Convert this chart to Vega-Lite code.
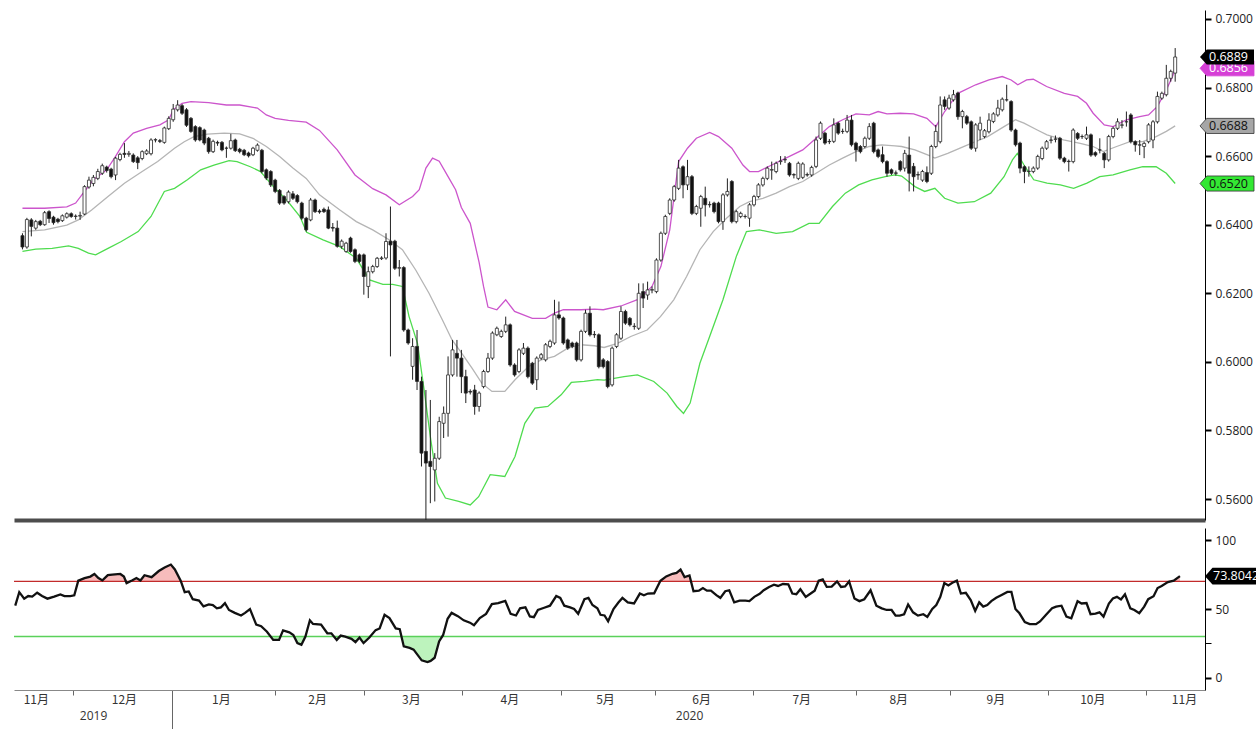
{
"$schema": "https://vega.github.io/schema/vega-lite/v6.json",
"background": "white",
"padding": {"left": 10, "top": 10, "right": 0, "bottom": 0},
"spacing": 8,
"config": {"view": {"stroke": null}, "font": "Open Sans", "axis": {"grid": false}},
"datasets": {
"px": [
{"i":0,"o":0.6368,"h":0.6375,"l":0.6328,"c":0.6335},
{"i":1,"o":0.6335,"h":0.642,"l":0.633,"c":0.6415},
{"i":2,"o":0.6414,"h":0.6419,"l":0.6366,"c":0.6395},
{"i":3,"o":0.639,"h":0.6414,"l":0.6385,"c":0.6409},
{"i":4,"o":0.641,"h":0.6414,"l":0.6396,"c":0.64},
{"i":5,"o":0.64,"h":0.644,"l":0.6397,"c":0.6435},
{"i":6,"o":0.6438,"h":0.6442,"l":0.6405,"c":0.6418},
{"i":7,"o":0.6422,"h":0.6426,"l":0.64,"c":0.6406},
{"i":8,"o":0.6416,"h":0.642,"l":0.6404,"c":0.6409},
{"i":9,"o":0.6412,"h":0.643,"l":0.6408,"c":0.6426},
{"i":10,"o":0.6422,"h":0.6436,"l":0.6418,"c":0.6432},
{"i":11,"o":0.6432,"h":0.6436,"l":0.642,"c":0.6424},
{"i":12,"o":0.6424,"h":0.643,"l":0.6415,"c":0.6425},
{"i":13,"o":0.6425,"h":0.6438,"l":0.6414,"c":0.6427},
{"i":14,"o":0.6431,"h":0.6515,"l":0.6428,"c":0.6511},
{"i":15,"o":0.651,"h":0.654,"l":0.6505,"c":0.653},
{"i":16,"o":0.652,"h":0.6545,"l":0.6512,"c":0.6538},
{"i":17,"o":0.6535,"h":0.6563,"l":0.653,"c":0.6555},
{"i":18,"o":0.655,"h":0.6578,"l":0.6545,"c":0.6572},
{"i":19,"o":0.6568,"h":0.6572,"l":0.6552,"c":0.6558},
{"i":20,"o":0.6562,"h":0.6566,"l":0.6535,"c":0.654},
{"i":21,"o":0.6545,"h":0.6598,"l":0.653,"c":0.6594},
{"i":22,"o":0.659,"h":0.661,"l":0.6585,"c":0.6605},
{"i":23,"o":0.6608,"h":0.6638,"l":0.6595,"c":0.6605},
{"i":24,"o":0.6605,"h":0.6615,"l":0.6598,"c":0.6608},
{"i":25,"o":0.6603,"h":0.6608,"l":0.658,"c":0.6584},
{"i":26,"o":0.6595,"h":0.66,"l":0.6562,"c":0.6581},
{"i":27,"o":0.6593,"h":0.6617,"l":0.6588,"c":0.6613},
{"i":28,"o":0.6607,"h":0.662,"l":0.6603,"c":0.6615},
{"i":29,"o":0.6607,"h":0.6652,"l":0.6602,"c":0.6647},
{"i":30,"o":0.6647,"h":0.6652,"l":0.664,"c":0.6648},
{"i":31,"o":0.6645,"h":0.665,"l":0.6638,"c":0.6643},
{"i":32,"o":0.664,"h":0.6686,"l":0.6636,"c":0.6682},
{"i":33,"o":0.668,"h":0.6716,"l":0.6676,"c":0.671},
{"i":34,"o":0.6706,"h":0.6752,"l":0.67,"c":0.6737},
{"i":35,"o":0.6735,"h":0.6763,"l":0.673,"c":0.6749},
{"i":36,"o":0.6747,"h":0.6752,"l":0.672,"c":0.6725},
{"i":37,"o":0.6735,"h":0.674,"l":0.6685,"c":0.669},
{"i":38,"o":0.671,"h":0.6714,"l":0.6668,"c":0.6672},
{"i":39,"o":0.6686,"h":0.669,"l":0.6642,"c":0.6647},
{"i":40,"o":0.6683,"h":0.6687,"l":0.6643,"c":0.6647},
{"i":41,"o":0.6676,"h":0.668,"l":0.6632,"c":0.6638},
{"i":42,"o":0.6652,"h":0.6656,"l":0.6607,"c":0.6613},
{"i":43,"o":0.6613,"h":0.6648,"l":0.6609,"c":0.6643},
{"i":44,"o":0.664,"h":0.6645,"l":0.663,"c":0.6638},
{"i":45,"o":0.664,"h":0.6644,"l":0.6614,"c":0.6618},
{"i":46,"o":0.6623,"h":0.6628,"l":0.6595,"c":0.6623},
{"i":47,"o":0.6623,"h":0.6665,"l":0.6619,"c":0.6645},
{"i":48,"o":0.6647,"h":0.6651,"l":0.6612,"c":0.6616},
{"i":49,"o":0.662,"h":0.6624,"l":0.6608,"c":0.6613},
{"i":50,"o":0.6617,"h":0.6621,"l":0.66,"c":0.6604},
{"i":51,"o":0.6609,"h":0.6613,"l":0.6596,"c":0.6601},
{"i":52,"o":0.6604,"h":0.6627,"l":0.66,"c":0.6623},
{"i":53,"o":0.6617,"h":0.6637,"l":0.6613,"c":0.6632},
{"i":54,"o":0.6617,"h":0.6621,"l":0.655,"c":0.6555},
{"i":55,"o":0.656,"h":0.6564,"l":0.653,"c":0.6536},
{"i":56,"o":0.6555,"h":0.6559,"l":0.651,"c":0.6516},
{"i":57,"o":0.653,"h":0.6534,"l":0.6492,"c":0.6497},
{"i":58,"o":0.65,"h":0.6504,"l":0.6458,"c":0.6463},
{"i":59,"o":0.6482,"h":0.6486,"l":0.6458,"c":0.6463},
{"i":60,"o":0.6467,"h":0.65,"l":0.6462,"c":0.6495},
{"i":61,"o":0.649,"h":0.6498,"l":0.6472,"c":0.6477},
{"i":62,"o":0.6485,"h":0.6489,"l":0.6462,"c":0.6467},
{"i":63,"o":0.6463,"h":0.6467,"l":0.6414,"c":0.6419},
{"i":64,"o":0.6419,"h":0.6423,"l":0.638,"c":0.6385},
{"i":65,"o":0.6414,"h":0.6478,"l":0.641,"c":0.6472},
{"i":66,"o":0.6472,"h":0.6476,"l":0.6434,"c":0.6438},
{"i":67,"o":0.644,"h":0.6445,"l":0.6432,"c":0.6437},
{"i":68,"o":0.6445,"h":0.645,"l":0.6434,"c":0.6438},
{"i":69,"o":0.6443,"h":0.6453,"l":0.6387,"c":0.639},
{"i":70,"o":0.6392,"h":0.6405,"l":0.638,"c":0.639},
{"i":71,"o":0.639,"h":0.6412,"l":0.6333,"c":0.6337},
{"i":72,"o":0.6337,"h":0.6357,"l":0.633,"c":0.6352},
{"i":73,"o":0.6322,"h":0.635,"l":0.6318,"c":0.6346},
{"i":74,"o":0.6361,"h":0.6365,"l":0.6318,"c":0.6322},
{"i":75,"o":0.6327,"h":0.6331,"l":0.6288,"c":0.6293},
{"i":76,"o":0.6312,"h":0.6316,"l":0.6288,"c":0.6293},
{"i":77,"o":0.6312,"h":0.6316,"l":0.6196,"c":0.6249},
{"i":78,"o":0.622,"h":0.6278,"l":0.6186,"c":0.6263},
{"i":79,"o":0.6263,"h":0.6283,"l":0.6258,"c":0.6278},
{"i":80,"o":0.6278,"h":0.6306,"l":0.6274,"c":0.6302},
{"i":81,"o":0.6301,"h":0.6308,"l":0.6297,"c":0.6303},
{"i":82,"o":0.6303,"h":0.6375,"l":0.6298,"c":0.6351},
{"i":83,"o":0.6352,"h":0.6453,"l":0.6016,"c":0.6341},
{"i":84,"o":0.6352,"h":0.6356,"l":0.6268,"c":0.6273},
{"i":85,"o":0.6273,"h":0.6297,"l":0.6249,"c":0.6275},
{"i":86,"o":0.6275,"h":0.6279,"l":0.6088,"c":0.6093},
{"i":87,"o":0.6093,"h":0.6097,"l":0.605,"c":0.6055},
{"i":88,"o":0.5987,"h":0.6069,"l":0.5948,"c":0.6045},
{"i":89,"o":0.6045,"h":0.6093,"l":0.5918,"c":0.5943},
{"i":90,"o":0.5943,"h":0.5957,"l":0.5695,"c":0.5734},
{"i":91,"o":0.5739,"h":0.5918,"l":0.551,"c":0.5705},
{"i":92,"o":0.571,"h":0.5889,"l":0.5588,"c":0.5695},
{"i":93,"o":0.5685,"h":0.5734,"l":0.5593,"c":0.5719},
{"i":94,"o":0.5719,"h":0.584,"l":0.5714,"c":0.5826},
{"i":95,"o":0.5821,"h":0.587,"l":0.5778,"c":0.585},
{"i":96,"o":0.585,"h":0.6016,"l":0.5782,"c":0.5962},
{"i":97,"o":0.5962,"h":0.6064,"l":0.5957,"c":0.6035},
{"i":98,"o":0.6025,"h":0.6064,"l":0.5957,"c":0.6011},
{"i":99,"o":0.6011,"h":0.6035,"l":0.5909,"c":0.5957},
{"i":100,"o":0.5957,"h":0.5977,"l":0.588,"c":0.5909},
{"i":101,"o":0.5914,"h":0.592,"l":0.5905,"c":0.5912},
{"i":102,"o":0.5918,"h":0.5933,"l":0.5846,"c":0.587},
{"i":103,"o":0.587,"h":0.5914,"l":0.5855,"c":0.5909},
{"i":104,"o":0.5928,"h":0.5977,"l":0.5923,"c":0.5972},
{"i":105,"o":0.5972,"h":0.6026,"l":0.5968,"c":0.6011},
{"i":106,"o":0.6011,"h":0.6089,"l":0.6006,"c":0.6084},
{"i":107,"o":0.6079,"h":0.6103,"l":0.6075,"c":0.6098},
{"i":108,"o":0.6074,"h":0.6094,"l":0.607,"c":0.6089},
{"i":109,"o":0.6089,"h":0.6132,"l":0.6084,"c":0.6108},
{"i":110,"o":0.6108,"h":0.6112,"l":0.5986,"c":0.5991},
{"i":111,"o":0.5991,"h":0.5996,"l":0.5957,"c":0.5962},
{"i":112,"o":0.5972,"h":0.604,"l":0.5967,"c":0.6035},
{"i":113,"o":0.6025,"h":0.6055,"l":0.602,"c":0.604},
{"i":114,"o":0.604,"h":0.6045,"l":0.5952,"c":0.5957},
{"i":115,"o":0.5996,"h":0.6,"l":0.5933,"c":0.5938},
{"i":116,"o":0.5948,"h":0.6016,"l":0.5918,"c":0.6011},
{"i":117,"o":0.6011,"h":0.6026,"l":0.6006,"c":0.6021},
{"i":118,"o":0.6006,"h":0.6055,"l":0.6001,"c":0.605},
{"i":119,"o":0.6045,"h":0.6065,"l":0.604,"c":0.606},
{"i":120,"o":0.6055,"h":0.6181,"l":0.605,"c":0.6137},
{"i":121,"o":0.6137,"h":0.6176,"l":0.6123,"c":0.6128},
{"i":122,"o":0.6128,"h":0.6132,"l":0.605,"c":0.6055},
{"i":123,"o":0.6064,"h":0.6068,"l":0.6035,"c":0.604},
{"i":124,"o":0.6055,"h":0.6059,"l":0.604,"c":0.6045},
{"i":125,"o":0.6055,"h":0.6059,"l":0.6001,"c":0.6006},
{"i":126,"o":0.6006,"h":0.6094,"l":0.6001,"c":0.6089},
{"i":127,"o":0.6089,"h":0.6152,"l":0.6084,"c":0.6142},
{"i":128,"o":0.6142,"h":0.6162,"l":0.6074,"c":0.6079},
{"i":129,"o":0.608,"h":0.609,"l":0.607,"c":0.6079},
{"i":130,"o":0.6079,"h":0.6083,"l":0.5981,"c":0.5986},
{"i":131,"o":0.6006,"h":0.6011,"l":0.5981,"c":0.5986},
{"i":132,"o":0.6001,"h":0.6005,"l":0.5923,"c":0.5928},
{"i":133,"o":0.5933,"h":0.6045,"l":0.5928,"c":0.604},
{"i":134,"o":0.6045,"h":0.6084,"l":0.604,"c":0.6079},
{"i":135,"o":0.6069,"h":0.6162,"l":0.6064,"c":0.6147},
{"i":136,"o":0.6147,"h":0.6152,"l":0.6108,"c":0.6113},
{"i":137,"o":0.6127,"h":0.6131,"l":0.6103,"c":0.6108},
{"i":138,"o":0.6103,"h":0.6113,"l":0.6094,"c":0.6104},
{"i":139,"o":0.6098,"h":0.6229,"l":0.6093,"c":0.62},
{"i":140,"o":0.6205,"h":0.6229,"l":0.6157,"c":0.6186},
{"i":141,"o":0.6195,"h":0.6234,"l":0.6181,"c":0.621},
{"i":142,"o":0.6209,"h":0.622,"l":0.62,"c":0.6211},
{"i":143,"o":0.6205,"h":0.6302,"l":0.62,"c":0.6297},
{"i":144,"o":0.6297,"h":0.638,"l":0.6292,"c":0.6375},
{"i":145,"o":0.6375,"h":0.6429,"l":0.637,"c":0.6424},
{"i":146,"o":0.6433,"h":0.6477,"l":0.6428,"c":0.6472},
{"i":147,"o":0.6472,"h":0.6516,"l":0.6467,"c":0.6511},
{"i":148,"o":0.6506,"h":0.6589,"l":0.6501,"c":0.6565},
{"i":149,"o":0.6569,"h":0.6573,"l":0.6477,"c":0.6516},
{"i":150,"o":0.6516,"h":0.6589,"l":0.6501,"c":0.654},
{"i":151,"o":0.654,"h":0.6545,"l":0.6428,"c":0.6433},
{"i":152,"o":0.6433,"h":0.6458,"l":0.6428,"c":0.6453},
{"i":153,"o":0.6448,"h":0.6487,"l":0.6394,"c":0.6482},
{"i":154,"o":0.6477,"h":0.6511,"l":0.6424,"c":0.6458},
{"i":155,"o":0.6458,"h":0.6468,"l":0.645,"c":0.6459},
{"i":156,"o":0.6463,"h":0.6467,"l":0.6433,"c":0.6438},
{"i":157,"o":0.6463,"h":0.6467,"l":0.6404,"c":0.6409},
{"i":158,"o":0.6409,"h":0.6492,"l":0.6385,"c":0.6487},
{"i":159,"o":0.6487,"h":0.6535,"l":0.6482,"c":0.6497},
{"i":160,"o":0.6526,"h":0.653,"l":0.6404,"c":0.6409},
{"i":161,"o":0.6409,"h":0.6443,"l":0.6404,"c":0.6438},
{"i":162,"o":0.6424,"h":0.6438,"l":0.6419,"c":0.6433},
{"i":163,"o":0.6424,"h":0.643,"l":0.6418,"c":0.6424},
{"i":164,"o":0.6419,"h":0.6463,"l":0.6394,"c":0.6458},
{"i":165,"o":0.6458,"h":0.6487,"l":0.6453,"c":0.6482},
{"i":166,"o":0.6482,"h":0.6521,"l":0.6477,"c":0.6516},
{"i":167,"o":0.6516,"h":0.654,"l":0.6511,"c":0.6535},
{"i":168,"o":0.6535,"h":0.657,"l":0.653,"c":0.6565},
{"i":169,"o":0.6559,"h":0.6584,"l":0.6531,"c":0.6561},
{"i":170,"o":0.6555,"h":0.6584,"l":0.655,"c":0.6579},
{"i":171,"o":0.6584,"h":0.66,"l":0.6575,"c":0.6586},
{"i":172,"o":0.6589,"h":0.66,"l":0.658,"c":0.659},
{"i":173,"o":0.6579,"h":0.6583,"l":0.654,"c":0.6545},
{"i":174,"o":0.6546,"h":0.655,"l":0.6535,"c":0.6545},
{"i":175,"o":0.6535,"h":0.6584,"l":0.653,"c":0.6579},
{"i":176,"o":0.6538,"h":0.6582,"l":0.6533,"c":0.6577},
{"i":177,"o":0.6546,"h":0.6552,"l":0.654,"c":0.6545},
{"i":178,"o":0.6545,"h":0.6572,"l":0.654,"c":0.6567},
{"i":179,"o":0.657,"h":0.6657,"l":0.6565,"c":0.6647},
{"i":180,"o":0.6652,"h":0.6701,"l":0.6647,"c":0.6696},
{"i":181,"o":0.6667,"h":0.6671,"l":0.6633,"c":0.6638},
{"i":182,"o":0.6643,"h":0.665,"l":0.6635,"c":0.6642},
{"i":183,"o":0.6643,"h":0.671,"l":0.6638,"c":0.6691},
{"i":184,"o":0.6696,"h":0.67,"l":0.6662,"c":0.6667},
{"i":185,"o":0.6672,"h":0.668,"l":0.6665,"c":0.6672},
{"i":186,"o":0.6672,"h":0.672,"l":0.6667,"c":0.6705},
{"i":187,"o":0.6705,"h":0.672,"l":0.6628,"c":0.6633},
{"i":188,"o":0.6638,"h":0.6642,"l":0.6584,"c":0.6618},
{"i":189,"o":0.6628,"h":0.6632,"l":0.6608,"c":0.6613},
{"i":190,"o":0.6628,"h":0.6657,"l":0.6623,"c":0.6652},
{"i":191,"o":0.6652,"h":0.6696,"l":0.6647,"c":0.6686},
{"i":192,"o":0.6696,"h":0.67,"l":0.6608,"c":0.6613},
{"i":193,"o":0.6618,"h":0.6622,"l":0.6594,"c":0.6599},
{"i":194,"o":0.6604,"h":0.6628,"l":0.6579,"c":0.6584},
{"i":195,"o":0.6584,"h":0.6588,"l":0.654,"c":0.655},
{"i":196,"o":0.656,"h":0.6564,"l":0.6545,"c":0.655},
{"i":197,"o":0.6551,"h":0.6558,"l":0.6543,"c":0.655},
{"i":198,"o":0.6584,"h":0.6588,"l":0.6555,"c":0.656},
{"i":199,"o":0.6565,"h":0.6618,"l":0.6555,"c":0.6608},
{"i":200,"o":0.6603,"h":0.6657,"l":0.6497,"c":0.655},
{"i":201,"o":0.657,"h":0.658,"l":0.6497,"c":0.654},
{"i":202,"o":0.6546,"h":0.6555,"l":0.6531,"c":0.6545},
{"i":203,"o":0.653,"h":0.656,"l":0.6525,"c":0.6555},
{"i":204,"o":0.6552,"h":0.657,"l":0.6521,"c":0.6526},
{"i":205,"o":0.655,"h":0.6633,"l":0.6545,"c":0.6628},
{"i":206,"o":0.6628,"h":0.6691,"l":0.6623,"c":0.6672},
{"i":207,"o":0.6642,"h":0.6774,"l":0.6637,"c":0.6749},
{"i":208,"o":0.6764,"h":0.6774,"l":0.6735,"c":0.6745},
{"i":209,"o":0.674,"h":0.6779,"l":0.6735,"c":0.6769},
{"i":210,"o":0.6764,"h":0.6793,"l":0.6759,"c":0.6779},
{"i":211,"o":0.6784,"h":0.6788,"l":0.6706,"c":0.6715},
{"i":212,"o":0.6715,"h":0.6735,"l":0.6681,"c":0.673},
{"i":213,"o":0.6715,"h":0.672,"l":0.6691,"c":0.6696},
{"i":214,"o":0.67,"h":0.6704,"l":0.6618,"c":0.6623},
{"i":215,"o":0.6623,"h":0.6696,"l":0.6613,"c":0.6691},
{"i":216,"o":0.6676,"h":0.6715,"l":0.6647,"c":0.6696},
{"i":217,"o":0.6657,"h":0.6679,"l":0.6652,"c":0.6674},
{"i":218,"o":0.6671,"h":0.6725,"l":0.6666,"c":0.6705},
{"i":219,"o":0.6701,"h":0.6728,"l":0.6696,"c":0.6723},
{"i":220,"o":0.672,"h":0.6764,"l":0.6715,"c":0.674},
{"i":221,"o":0.6735,"h":0.6771,"l":0.673,"c":0.6766},
{"i":222,"o":0.6764,"h":0.6808,"l":0.6759,"c":0.6764},
{"i":223,"o":0.6759,"h":0.6763,"l":0.6671,"c":0.6676},
{"i":224,"o":0.6676,"h":0.668,"l":0.6628,"c":0.6633},
{"i":225,"o":0.6638,"h":0.6642,"l":0.655,"c":0.6565},
{"i":226,"o":0.6569,"h":0.6573,"l":0.6521,"c":0.6555},
{"i":227,"o":0.6555,"h":0.657,"l":0.654,"c":0.6556},
{"i":228,"o":0.6555,"h":0.657,"l":0.655,"c":0.6565},
{"i":229,"o":0.6565,"h":0.6604,"l":0.656,"c":0.6599},
{"i":230,"o":0.6593,"h":0.6628,"l":0.6588,"c":0.6623},
{"i":231,"o":0.6623,"h":0.6647,"l":0.6618,"c":0.6642},
{"i":232,"o":0.6646,"h":0.6657,"l":0.6637,"c":0.6647},
{"i":233,"o":0.6649,"h":0.666,"l":0.664,"c":0.665},
{"i":234,"o":0.6652,"h":0.6656,"l":0.6589,"c":0.6594},
{"i":235,"o":0.6594,"h":0.6598,"l":0.6579,"c":0.6584},
{"i":236,"o":0.6585,"h":0.659,"l":0.6555,"c":0.6584},
{"i":237,"o":0.6584,"h":0.6681,"l":0.6579,"c":0.6676},
{"i":238,"o":0.6666,"h":0.667,"l":0.6647,"c":0.6652},
{"i":239,"o":0.6657,"h":0.6663,"l":0.665,"c":0.6657},
{"i":240,"o":0.6652,"h":0.6686,"l":0.6647,"c":0.6662},
{"i":241,"o":0.6662,"h":0.6666,"l":0.6598,"c":0.6603},
{"i":242,"o":0.661,"h":0.6614,"l":0.6598,"c":0.6603},
{"i":243,"o":0.6618,"h":0.6652,"l":0.6608,"c":0.6618},
{"i":244,"o":0.6608,"h":0.6612,"l":0.6565,"c":0.6589},
{"i":245,"o":0.6589,"h":0.6662,"l":0.6584,"c":0.6657},
{"i":246,"o":0.6657,"h":0.6686,"l":0.6652,"c":0.6681},
{"i":247,"o":0.6681,"h":0.671,"l":0.6676,"c":0.67},
{"i":248,"o":0.669,"h":0.6705,"l":0.6681,"c":0.6691},
{"i":249,"o":0.67,"h":0.673,"l":0.6686,"c":0.67},
{"i":250,"o":0.672,"h":0.6725,"l":0.6637,"c":0.6642},
{"i":251,"o":0.6642,"h":0.6646,"l":0.6613,"c":0.6633},
{"i":252,"o":0.6632,"h":0.6647,"l":0.6603,"c":0.6633},
{"i":253,"o":0.6628,"h":0.6642,"l":0.6594,"c":0.6637},
{"i":254,"o":0.6642,"h":0.6696,"l":0.6637,"c":0.6691},
{"i":255,"o":0.6647,"h":0.6705,"l":0.6623,"c":0.67},
{"i":256,"o":0.67,"h":0.6788,"l":0.6695,"c":0.6774},
{"i":257,"o":0.6769,"h":0.6788,"l":0.6764,"c":0.6783},
{"i":258,"o":0.6779,"h":0.6866,"l":0.6774,"c":0.6827},
{"i":259,"o":0.6827,"h":0.6852,"l":0.6817,"c":0.6847},
{"i":260,"o":0.6842,"h":0.6915,"l":0.6817,"c":0.6889}
],
"bb": [
{"i":0,"k":"u","v":0.6448},{"i":5,"k":"u","v":0.6448},{"i":10,"k":"u","v":0.6452},{"i":12,"k":"u","v":0.6463},{"i":14,"k":"u","v":0.6497},{"i":16,"k":"u","v":0.6531},{"i":19,"k":"u","v":0.656},{"i":21,"k":"u","v":0.6599},{"i":23,"k":"u","v":0.6642},{"i":25,"k":"u","v":0.6667},{"i":28,"k":"u","v":0.6681},{"i":31,"k":"u","v":0.6691},{"i":33,"k":"u","v":0.6706},{"i":34,"k":"u","v":0.6735},{"i":36,"k":"u","v":0.6754},{"i":38,"k":"u","v":0.6759},{"i":42,"k":"u","v":0.6756},{"i":46,"k":"u","v":0.6749},{"i":49,"k":"u","v":0.6749},{"i":53,"k":"u","v":0.674},{"i":55,"k":"u","v":0.672},{"i":57,"k":"u","v":0.671},{"i":60,"k":"u","v":0.6704},{"i":64,"k":"u","v":0.6699},{"i":67,"k":"u","v":0.6675},{"i":71,"k":"u","v":0.6618},{"i":75,"k":"u","v":0.6545},{"i":79,"k":"u","v":0.6505},{"i":82,"k":"u","v":0.6487},{"i":85,"k":"u","v":0.6458},{"i":88,"k":"u","v":0.6482},{"i":89.5,"k":"u","v":0.6502},{"i":91,"k":"u","v":0.6565},{"i":92.5,"k":"u","v":0.6594},{"i":94,"k":"u","v":0.6585},{"i":96,"k":"u","v":0.654},{"i":97.7,"k":"u","v":0.6502},{"i":99,"k":"u","v":0.645},{"i":101,"k":"u","v":0.6404},{"i":103,"k":"u","v":0.629},{"i":104,"k":"u","v":0.622},{"i":105,"k":"u","v":0.616},{"i":107,"k":"u","v":0.6152},{"i":109,"k":"u","v":0.6181},{"i":111,"k":"u","v":0.6147},{"i":115,"k":"u","v":0.6127},{"i":118,"k":"u","v":0.6127},{"i":120,"k":"u","v":0.6142},{"i":122,"k":"u","v":0.6152},{"i":126,"k":"u","v":0.6152},{"i":129,"k":"u","v":0.6154},{"i":131,"k":"u","v":0.6152},{"i":135,"k":"u","v":0.6163},{"i":139,"k":"u","v":0.6183},{"i":142,"k":"u","v":0.622},{"i":144,"k":"u","v":0.6278},{"i":146,"k":"u","v":0.6385},{"i":148,"k":"u","v":0.6584},{"i":150,"k":"u","v":0.6623},{"i":152,"k":"u","v":0.6652},{"i":155,"k":"u","v":0.6669},{"i":157,"k":"u","v":0.6657},{"i":160,"k":"u","v":0.6623},{"i":162.5,"k":"u","v":0.6574},{"i":164,"k":"u","v":0.6555},{"i":166,"k":"u","v":0.6555},{"i":169,"k":"u","v":0.6574},{"i":173,"k":"u","v":0.6599},{"i":176,"k":"u","v":0.6618},{"i":179,"k":"u","v":0.6652},{"i":182,"k":"u","v":0.6686},{"i":185,"k":"u","v":0.6706},{"i":188,"k":"u","v":0.6723},{"i":191,"k":"u","v":0.672},{"i":193,"k":"u","v":0.673},{"i":195,"k":"u","v":0.6723},{"i":198,"k":"u","v":0.6725},{"i":201,"k":"u","v":0.6723},{"i":204,"k":"u","v":0.671},{"i":206,"k":"u","v":0.6686},{"i":208,"k":"u","v":0.673},{"i":211,"k":"u","v":0.6783},{"i":215,"k":"u","v":0.6808},{"i":218,"k":"u","v":0.6822},{"i":221,"k":"u","v":0.6832},{"i":223,"k":"u","v":0.6822},{"i":224.5,"k":"u","v":0.6808},{"i":226.5,"k":"u","v":0.6822},{"i":228,"k":"u","v":0.6824},{"i":231,"k":"u","v":0.6803},{"i":235,"k":"u","v":0.6783},{"i":238,"k":"u","v":0.6774},{"i":240,"k":"u","v":0.6754},{"i":241.5,"k":"u","v":0.6725},{"i":244,"k":"u","v":0.6691},{"i":246,"k":"u","v":0.6686},{"i":249,"k":"u","v":0.6706},{"i":252,"k":"u","v":0.6715},{"i":254,"k":"u","v":0.672},{"i":256,"k":"u","v":0.6745},{"i":258,"k":"u","v":0.6793},{"i":259.4,"k":"u","v":0.6832},{"i":260,"k":"u","v":0.6856},
{"i":0,"k":"m","v":0.638},{"i":5,"k":"m","v":0.6385},{"i":10,"k":"m","v":0.6399},{"i":12.6,"k":"m","v":0.6414},{"i":15.6,"k":"m","v":0.6443},{"i":19.3,"k":"m","v":0.6482},{"i":23,"k":"m","v":0.6521},{"i":27,"k":"m","v":0.6555},{"i":30.5,"k":"m","v":0.6584},{"i":34.3,"k":"m","v":0.6623},{"i":36.5,"k":"m","v":0.6642},{"i":38.7,"k":"m","v":0.6657},{"i":41.7,"k":"m","v":0.6664},{"i":45.5,"k":"m","v":0.6667},{"i":49,"k":"m","v":0.6665},{"i":52,"k":"m","v":0.6652},{"i":55,"k":"m","v":0.6628},{"i":58,"k":"m","v":0.6599},{"i":61,"k":"m","v":0.6565},{"i":64,"k":"m","v":0.6535},{"i":67,"k":"m","v":0.6487},{"i":71.6,"k":"m","v":0.6443},{"i":75.3,"k":"m","v":0.6409},{"i":79,"k":"m","v":0.6385},{"i":82.7,"k":"m","v":0.6356},{"i":85.7,"k":"m","v":0.6327},{"i":88.7,"k":"m","v":0.6268},{"i":91.7,"k":"m","v":0.62},{"i":94.7,"k":"m","v":0.6123},{"i":96.9,"k":"m","v":0.6064},{"i":99.1,"k":"m","v":0.6025},{"i":101.4,"k":"m","v":0.5982},{"i":103.6,"k":"m","v":0.5938},{"i":105.9,"k":"m","v":0.5914},{"i":108.8,"k":"m","v":0.5914},{"i":111.1,"k":"m","v":0.5948},{"i":114.1,"k":"m","v":0.5986},{"i":117,"k":"m","v":0.6006},{"i":120,"k":"m","v":0.6016},{"i":123,"k":"m","v":0.604},{"i":126,"k":"m","v":0.605},{"i":129,"k":"m","v":0.6047},{"i":131.2,"k":"m","v":0.6042},{"i":134.2,"k":"m","v":0.6054},{"i":137.2,"k":"m","v":0.6074},{"i":140.9,"k":"m","v":0.6093},{"i":143.9,"k":"m","v":0.6132},{"i":146.9,"k":"m","v":0.6181},{"i":149.8,"k":"m","v":0.6249},{"i":152.8,"k":"m","v":0.6327},{"i":155.8,"k":"m","v":0.638},{"i":158.8,"k":"m","v":0.6419},{"i":161.8,"k":"m","v":0.6453},{"i":164,"k":"m","v":0.6467},{"i":167,"k":"m","v":0.6477},{"i":170,"k":"m","v":0.6492},{"i":173,"k":"m","v":0.6511},{"i":176,"k":"m","v":0.6526},{"i":179,"k":"m","v":0.655},{"i":182,"k":"m","v":0.6574},{"i":185,"k":"m","v":0.6594},{"i":188,"k":"m","v":0.6613},{"i":191,"k":"m","v":0.6628},{"i":193.8,"k":"m","v":0.6633},{"i":196.8,"k":"m","v":0.663},{"i":198.3,"k":"m","v":0.6628},{"i":201.3,"k":"m","v":0.6618},{"i":204.3,"k":"m","v":0.6603},{"i":205.8,"k":"m","v":0.6594},{"i":208.7,"k":"m","v":0.6608},{"i":213.2,"k":"m","v":0.6633},{"i":217.7,"k":"m","v":0.6657},{"i":221.4,"k":"m","v":0.6686},{"i":224,"k":"m","v":0.6706},{"i":225.9,"k":"m","v":0.6696},{"i":228.9,"k":"m","v":0.6676},{"i":231.1,"k":"m","v":0.6662},{"i":234.8,"k":"m","v":0.6647},{"i":238.6,"k":"m","v":0.6637},{"i":241.5,"k":"m","v":0.6628},{"i":243.8,"k":"m","v":0.6613},{"i":246.8,"k":"m","v":0.6628},{"i":249.8,"k":"m","v":0.6642},{"i":252.7,"k":"m","v":0.6642},{"i":255.7,"k":"m","v":0.6657},{"i":258,"k":"m","v":0.6672},{"i":260,"k":"m","v":0.6688},
{"i":0,"k":"b","v":0.6322},{"i":3,"k":"b","v":0.6329},{"i":6.7,"k":"b","v":0.6331},{"i":10.4,"k":"b","v":0.6338},{"i":12.6,"k":"b","v":0.6331},{"i":14.9,"k":"b","v":0.6317},{"i":16.5,"k":"b","v":0.6312},{"i":19.3,"k":"b","v":0.6331},{"i":22.3,"k":"b","v":0.6351},{"i":26.1,"k":"b","v":0.638},{"i":29,"k":"b","v":0.6424},{"i":32,"k":"b","v":0.6497},{"i":34.3,"k":"b","v":0.6506},{"i":37.2,"k":"b","v":0.6531},{"i":40.2,"k":"b","v":0.656},{"i":43.2,"k":"b","v":0.6574},{"i":46.6,"k":"b","v":0.6587},{"i":48.4,"k":"b","v":0.6584},{"i":51.4,"k":"b","v":0.6569},{"i":53.7,"k":"b","v":0.6555},{"i":56.6,"k":"b","v":0.6511},{"i":59.6,"k":"b","v":0.6472},{"i":62.6,"k":"b","v":0.6424},{"i":64.1,"k":"b","v":0.6378},{"i":67.8,"k":"b","v":0.6356},{"i":71.6,"k":"b","v":0.6336},{"i":75.3,"k":"b","v":0.6302},{"i":78.3,"k":"b","v":0.6239},{"i":81.3,"k":"b","v":0.6226},{"i":83.5,"k":"b","v":0.6226},{"i":85.7,"k":"b","v":0.622},{"i":87.2,"k":"b","v":0.6132},{"i":89.1,"k":"b","v":0.6054},{"i":90.6,"k":"b","v":0.5918},{"i":92.1,"k":"b","v":0.5773},{"i":93.6,"k":"b","v":0.5646},{"i":95.4,"k":"b","v":0.5603},{"i":98.4,"k":"b","v":0.5593},{"i":101,"k":"b","v":0.5583},{"i":102.9,"k":"b","v":0.5607},{"i":105.5,"k":"b","v":0.5671},{"i":108.8,"k":"b","v":0.5666},{"i":111.1,"k":"b","v":0.5724},{"i":113.3,"k":"b","v":0.5821},{"i":115.6,"k":"b","v":0.5865},{"i":118.5,"k":"b","v":0.587},{"i":121.5,"k":"b","v":0.5904},{"i":123.8,"k":"b","v":0.594},{"i":126.7,"k":"b","v":0.5943},{"i":129.7,"k":"b","v":0.5948},{"i":131.2,"k":"b","v":0.5947},{"i":135.7,"k":"b","v":0.5957},{"i":138.7,"k":"b","v":0.5962},{"i":142.4,"k":"b","v":0.5943},{"i":145.4,"k":"b","v":0.5909},{"i":147.6,"k":"b","v":0.587},{"i":149.1,"k":"b","v":0.585},{"i":150.6,"k":"b","v":0.588},{"i":152.8,"k":"b","v":0.5996},{"i":155,"k":"b","v":0.6074},{"i":158,"k":"b","v":0.6181},{"i":161,"k":"b","v":0.6307},{"i":163.3,"k":"b","v":0.638},{"i":166.2,"k":"b","v":0.6385},{"i":170,"k":"b","v":0.6375},{"i":173.7,"k":"b","v":0.638},{"i":177.4,"k":"b","v":0.6404},{"i":179.7,"k":"b","v":0.6404},{"i":182.7,"k":"b","v":0.6453},{"i":185.6,"k":"b","v":0.6492},{"i":188.6,"k":"b","v":0.6516},{"i":191.6,"k":"b","v":0.6531},{"i":194.6,"k":"b","v":0.654},{"i":196.8,"k":"b","v":0.6545},{"i":198.3,"k":"b","v":0.6542},{"i":201.3,"k":"b","v":0.6511},{"i":203.5,"k":"b","v":0.6497},{"i":205.8,"k":"b","v":0.6506},{"i":208,"k":"b","v":0.6477},{"i":211,"k":"b","v":0.6463},{"i":214.7,"k":"b","v":0.6467},{"i":218.4,"k":"b","v":0.6492},{"i":221.4,"k":"b","v":0.654},{"i":223.3,"k":"b","v":0.6589},{"i":224.4,"k":"b","v":0.6608},{"i":225.9,"k":"b","v":0.6574},{"i":228.1,"k":"b","v":0.6531},{"i":231.1,"k":"b","v":0.6521},{"i":234.1,"k":"b","v":0.6516},{"i":237.1,"k":"b","v":0.6506},{"i":240.1,"k":"b","v":0.6521},{"i":243,"k":"b","v":0.654},{"i":246,"k":"b","v":0.6545},{"i":249.8,"k":"b","v":0.656},{"i":252.7,"k":"b","v":0.6569},{"i":255.7,"k":"b","v":0.6569},{"i":258,"k":"b","v":0.655},{"i":260,"k":"b","v":0.652}
],
"rsi": [
{"i":-0.5,"r":52.4},{"i":0.4,"r":62.2},{"i":1.5,"r":57.5},{"i":2.4,"r":59.4},{"i":3.3,"r":59},{"i":4.4,"r":61.8},{"i":5.5,"r":59.4},{"i":6.7,"r":57.5},{"i":8.2,"r":59},{"i":9.6,"r":60.6},{"i":10.5,"r":59.4},{"i":11.8,"r":59.4},{"i":12.7,"r":59.9},{"i":13.6,"r":70.5},{"i":15,"r":72.4},{"i":16.3,"r":73.5},{"i":17.2,"r":75.4},{"i":18.1,"r":72.4},{"i":19,"r":70.7},{"i":20.2,"r":74.5},{"i":21.2,"r":74.9},{"i":23,"r":75.4},{"i":23.8,"r":73.5},{"i":24.4,"r":68.8},{"i":25.6,"r":70.7},{"i":26.6,"r":72.4},{"i":27.5,"r":70.7},{"i":28.4,"r":74.5},{"i":30,"r":73.1},{"i":31.6,"r":77.5},{"i":32.9,"r":80.1},{"i":34.3,"r":82.2},{"i":35.2,"r":78.7},{"i":36.5,"r":70.5},{"i":37.4,"r":62.2},{"i":38.3,"r":62.7},{"i":39.2,"r":57.1},{"i":40.6,"r":56.1},{"i":41.6,"r":51.9},{"i":42.8,"r":53.3},{"i":43.7,"r":52.9},{"i":44.6,"r":50.5},{"i":45.5,"r":51.2},{"i":46.4,"r":54.2},{"i":47.3,"r":49.3},{"i":48.6,"r":47.2},{"i":50,"r":45.3},{"i":50.9,"r":47.2},{"i":52,"r":50},{"i":53.4,"r":38.7},{"i":54.5,"r":37.5},{"i":55.8,"r":33.5},{"i":57.2,"r":27.6},{"i":58.5,"r":27.6},{"i":59.4,"r":34.5},{"i":60.8,"r":33.1},{"i":61.7,"r":31.2},{"i":62.6,"r":25.3},{"i":63.5,"r":24.1},{"i":64.4,"r":30},{"i":65.4,"r":41.8},{"i":66.1,"r":39.2},{"i":67.9,"r":38.7},{"i":69.3,"r":32.4},{"i":70.2,"r":32.4},{"i":71.4,"r":27.6},{"i":72.3,"r":30.7},{"i":73.3,"r":30},{"i":74.7,"r":28.4},{"i":75.6,"r":26},{"i":76.5,"r":29.3},{"i":77.4,"r":25.3},{"i":78.7,"r":29.3},{"i":80.1,"r":34.7},{"i":81,"r":35.9},{"i":82.1,"r":45.8},{"i":83.2,"r":43.4},{"i":84.6,"r":35.9},{"i":85.5,"r":35.4},{"i":86.4,"r":22.9},{"i":87.7,"r":21.8},{"i":88.6,"r":20.6},{"i":90.4,"r":12.8},{"i":91.7,"r":11.6},{"i":92.4,"r":12.4},{"i":93.3,"r":14.7},{"i":94.3,"r":26.5},{"i":95.2,"r":31.2},{"i":96.2,"r":42.9},{"i":97.1,"r":47.2},{"i":98.5,"r":44.8},{"i":99.8,"r":41.8},{"i":101.2,"r":40.1},{"i":102.1,"r":38.2},{"i":103.4,"r":43.4},{"i":104.8,"r":46.5},{"i":106.1,"r":53.5},{"i":107.5,"r":54.2},{"i":109.1,"r":55.9},{"i":110.3,"r":46.5},{"i":111.5,"r":45.3},{"i":112.4,"r":50.5},{"i":113.6,"r":51.2},{"i":114.6,"r":44.6},{"i":115.5,"r":44.1},{"i":116.4,"r":49.3},{"i":117.8,"r":50.9},{"i":119.1,"r":52.4},{"i":120.5,"r":59.4},{"i":121.4,"r":58},{"i":122.3,"r":52.4},{"i":123.6,"r":51.2},{"i":124.5,"r":50},{"i":125.4,"r":46.5},{"i":126.8,"r":57.1},{"i":127.7,"r":58},{"i":128.6,"r":52.9},{"i":129.7,"r":50.5},{"i":130.4,"r":45.8},{"i":131.3,"r":45.3},{"i":132.1,"r":41.1},{"i":133.3,"r":50},{"i":134.4,"r":54.7},{"i":135.3,"r":58},
{"i":136.5,"r":54.8},{"i":137.9,"r":54},{"i":139.2,"r":61.2},{"i":140.1,"r":60},{"i":141,"r":61.2},{"i":142.4,"r":61.4},{"i":143.8,"r":70.5},{"i":145.1,"r":73.6},{"i":146.5,"r":75.5},{"i":147.4,"r":76.2},{"i":148.3,"r":78.6},{"i":149.2,"r":73.1},{"i":150.3,"r":74.3},{"i":151.2,"r":62.9},{"i":152.4,"r":63.3},{"i":153.3,"r":65.2},{"i":154.2,"r":63.3},{"i":155.1,"r":63.3},{"i":156.3,"r":60},{"i":157.2,"r":58.1},{"i":158.3,"r":62.9},{"i":159.2,"r":63.6},{"i":160.3,"r":54.8},{"i":161.5,"r":56},{"i":162.8,"r":56},{"i":163.7,"r":55.7},{"i":164.8,"r":58.8},{"i":166,"r":61},{"i":166.9,"r":63.6},{"i":168.1,"r":66},{"i":169.2,"r":67.6},{"i":170.1,"r":66.7},{"i":171.2,"r":68.1},{"i":172.4,"r":67.9},{"i":173.3,"r":61.2},{"i":174.2,"r":60.7},{"i":175.1,"r":64.3},{"i":176.3,"r":58.8},{"i":177.4,"r":61.2},{"i":178.3,"r":63.3},{"i":179.2,"r":70.5},{"i":180.1,"r":71.4},{"i":181,"r":66},{"i":182.1,"r":66.2},{"i":183.3,"r":70},{"i":184.2,"r":66},{"i":185.1,"r":66.4},{"i":186,"r":70},{"i":187.2,"r":57.6},{"i":188.3,"r":55.7},{"i":189.4,"r":57.1},{"i":190.8,"r":63.6},{"i":192.1,"r":52.4},{"i":193.3,"r":50.5},{"i":194.4,"r":49.3},{"i":195.5,"r":49.3},{"i":196.4,"r":45.2},{"i":197.3,"r":45.2},{"i":198.3,"r":46.2},{"i":199.2,"r":53.3},{"i":200.3,"r":47.6},{"i":201.4,"r":45.2},{"i":202.6,"r":46.2},{"i":203.5,"r":44.3},{"i":204.6,"r":50},{"i":205.5,"r":52.9},{"i":206.4,"r":58.8},{"i":207.3,"r":68.8},{"i":208.2,"r":67.1},{"i":209.1,"r":69},{"i":210.1,"r":70.5},{"i":211,"r":61.2},{"i":212.1,"r":61.7},{"i":213.2,"r":56.4},{"i":214.2,"r":48.6},{"i":215.1,"r":54.8},{"i":216,"r":51.7},{"i":216.9,"r":52.9},{"i":217.8,"r":55.7},{"i":218.9,"r":58.1},{"i":220,"r":60},{"i":221.4,"r":62.4},{"i":222.3,"r":62.4},{"i":223.2,"r":50},{"i":224.1,"r":46.9},{"i":225.3,"r":40.5},{"i":226.4,"r":39},{"i":227.8,"r":39},{"i":228.7,"r":41},{"i":230,"r":45.7},{"i":231.4,"r":50.5},{"i":232.3,"r":51.7},{"i":233.5,"r":52.4},{"i":234.6,"r":44.5},{"i":235.7,"r":43.3},{"i":237.1,"r":55.7},{"i":238,"r":54},{"i":239.1,"r":54.3},{"i":240,"r":46.2},{"i":241.1,"r":46.7},{"i":242,"r":47.6},{"i":242.9,"r":44.5},{"i":244.1,"r":54},{"i":245,"r":57.6},{"i":245.9,"r":58.8},{"i":246.8,"r":56.9},{"i":247.7,"r":60.7},{"i":248.9,"r":50.5},{"i":249.8,"r":49.3},{"i":250.9,"r":46.9},{"i":252,"r":51.7},{"i":252.9,"r":57.1},{"i":254.1,"r":59.3},{"i":255,"r":65.2},{"i":255.9,"r":66.7},{"i":257.3,"r":69.5},{"i":258.6,"r":70.5},{"i":260,"r":73.8042}
],
"tg": [{"k":"m","v":0.6688},{"k":"b","v":0.652},{"k":"u","v":0.6856},{"k":"p","v":0.6889}],
"rt": [{"r":73.8042}],
"one": [{"a":1}]
},
"vconcat": [
{
"width": 1191, "height": 510,
"layer": [
{"data": {"name": "bb"}, "mark": {"type": "line", "strokeWidth": 1.3},
 "encoding": {
  "x": {"field": "i", "type": "quantitative", "title": null, "scale": {"domain": [-0.78, 265.6], "nice": false, "zero": false},
        "axis": {"orient": "bottom", "labels": false, "ticks": false, "domainWidth": 4, "domainColor": "#4d4d4d", "title": null, "grid": false}},
  "y": {"field": "v", "type": "quantitative", "title": null, "scale": {"domain": [0.5539, 0.7026], "nice": false, "zero": false},
        "axis": {"orient": "right", "values": [0.56,0.58,0.6,0.62,0.64,0.66,0.68,0.7], "format": ".4f", "tickSize": 6, "tickWidth": 2, "tickColor": "#000000", "domainColor": "#000000", "labelFontSize": 12, "labelColor": "#222222", "labelPadding": 4, "title": null, "grid": false}},
  "color": {"field": "k", "type": "nominal", "scale": {"domain": ["u","m","b"], "range": ["#cc55cc","#b5b5b5","#4fdc4f"]}, "legend": null}
 }},
{"data": {"name": "px"}, "mark": {"type": "rule", "color": "#222222", "strokeWidth": 1, "clip": true},
 "encoding": {"x": {"field": "i", "type": "quantitative", "title": null}, "y": {"field": "l", "type": "quantitative", "title": null}, "y2": {"field": "h"}}},
{"data": {"name": "px"}, "mark": {"type": "bar", "width": 3, "stroke": "#2a2a2a", "strokeWidth": 0.8, "clip": true},
 "encoding": {"x": {"field": "i", "type": "quantitative", "title": null}, "y": {"field": "o", "type": "quantitative", "title": null}, "y2": {"field": "c"},
  "fill": {"condition": {"test": "datum.c < datum.o", "value": "#111111"}, "value": "#ffffff"}}},
{"data": {"name": "tg"}, "transform": [{"filter": "datum.k != 'p'"}],
 "mark": {"type": "point", "shape": "M0,0L0.25,-0.28L2,-0.28L2,0.28L0.25,0.28Z", "size": 2916, "filled": true, "opacity": 1, "strokeWidth": 0.8},
 "encoding": {"x": {"datum": 265.6, "type": "quantitative"}, "y": {"field": "v", "type": "quantitative", "title": null},
  "fill": {"condition": [{"test": "datum.k == 'u'", "value": "#d63fd6"}, {"test": "datum.k == 'm'", "value": "#a6a6a6"}], "value": "#33e833"},
  "stroke": {"condition": [{"test": "datum.k == 'u'", "value": "#d63fd6"}], "value": "#333333"}}},
{"data": {"name": "tg"}, "transform": [{"filter": "datum.k != 'p'"}],
 "mark": {"type": "text", "align": "left", "baseline": "middle", "dx": 9, "fontSize": 12.5},
 "encoding": {"x": {"datum": 265.6, "type": "quantitative"}, "y": {"field": "v", "type": "quantitative", "title": null},
  "text": {"field": "v", "type": "quantitative", "format": ".4f"},
  "color": {"condition": {"test": "datum.k == 'u'", "value": "#ffffff"}, "value": "#111111"}}},
{"data": {"name": "tg"}, "transform": [{"filter": "datum.k == 'p'"}],
 "mark": {"type": "point", "shape": "M0,0L0.25,-0.28L2,-0.28L2,0.28L0.25,0.28Z", "size": 2916, "filled": true, "opacity": 1, "color": "#000000"},
 "encoding": {"x": {"datum": 265.6, "type": "quantitative"}, "y": {"field": "v", "type": "quantitative", "title": null}}},
{"data": {"name": "tg"}, "transform": [{"filter": "datum.k == 'p'"}],
 "mark": {"type": "text", "align": "left", "baseline": "middle", "dx": 9, "fontSize": 12.5, "color": "#ffffff"},
 "encoding": {"x": {"datum": 265.6, "type": "quantitative"}, "y": {"field": "v", "type": "quantitative", "title": null},
  "text": {"field": "v", "type": "quantitative", "format": ".4f"}}}
]
},
{
"width": 1191, "height": 162,
"resolve": {"axis": {"x": "independent"}},
"layer": [
{"data": {"name": "rsi"}, "transform": [{"filter": "datum.r > 55"}], "mark": {"type": "area", "color": "#f7bcbc", "opacity": 1},
 "encoding": {
  "x": {"field": "i", "type": "quantitative", "title": null, "scale": {"domain": [-0.78, 265.6], "nice": false, "zero": false},
        "axis": {"orient": "bottom", "values": [12.5,34.5,57.5,77.5,99.5,121.5,142.5,164.5,187.5,208.5,230.5,252.5], "labels": false, "ticks": true, "tickSize": {"condition": {"test": "datum.value == 34.5", "value": 39}, "value": 5}, "tickColor": "#666666", "tickWidth": 1, "domainColor": "#888888", "grid": false, "title": null}},
  "y": {"field": "r", "type": "quantitative", "title": null, "scale": {"domain": [-8.7, 108.7], "nice": false, "zero": false},
        "axis": {"orient": "right", "values": [0,25,50,75,100], "labelExpr": "datum.value % 50 == 0 ? datum.label : ''", "tickSize": 6, "tickWidth": {"condition": {"test": "datum.value % 50 != 0", "value": 1}, "value": 2}, "tickColor": "#000000", "domainColor": "#000000", "labelFontSize": 12, "labelColor": "#222222", "labelPadding": 4, "title": null, "grid": false}},
  "y2": {"datum": 70}
 }},
{"data": {"name": "rsi"}, "transform": [{"filter": "datum.r < 45"}], "mark": {"type": "area", "color": "#bdf3bd", "opacity": 1},
 "encoding": {
  "x": {"field": "i", "type": "quantitative", "title": null,
        "axis": {"orient": "bottom", "values": [4.1,23.8,45.5,67,88,110,131.4,152.9,175.3,197,218.7,240.4,260.9], "labelExpr": "['11月','12月','1月','2月','3月','4月','5月','6月','7月','8月','9月','10月','11月'][indexof([4.1,23.8,45.5,67,88,110,131.4,152.9,175.3,197,218.7,240.4,260.9], datum.value)]", "domain": false, "ticks": false, "labelFont": "Noto Sans CJK SC", "labelFontSize": 12, "labelColor": "#333333", "labelPadding": 4, "labelFlush": false, "labelOverlap": false, "title": null, "grid": false}},
  "y": {"field": "r", "type": "quantitative", "title": null},
  "y2": {"datum": 30}
 }},
{"data": {"name": "one"}, "mark": {"type": "rect", "color": "#ffffff", "opacity": 1},
 "encoding": {"x": {"datum": -0.78, "type": "quantitative", "axis": null}, "x2": {"datum": 265.6}, "y": {"datum": 30, "type": "quantitative"}, "y2": {"datum": 70}}},
{"data": {"name": "one"}, "mark": {"type": "rule", "color": "#c22b2b", "strokeWidth": 1.2},
 "encoding": {"y": {"datum": 70, "type": "quantitative"}}},
{"data": {"name": "one"}, "mark": {"type": "rule", "color": "#5ad15a", "strokeWidth": 1.5},
 "encoding": {"y": {"datum": 30, "type": "quantitative"}}},
{"data": {"name": "rsi"}, "mark": {"type": "line", "color": "#111111", "strokeWidth": 2.3},
 "encoding": {
  "x": {"field": "i", "type": "quantitative", "title": null,
        "axis": {"orient": "bottom", "values": [16.9, 150.2], "labelExpr": "datum.value < 50 ? '2019' : '2020'", "domain": false, "ticks": false, "labelFontSize": 12, "labelColor": "#333333", "labelPadding": 20, "labelFlush": false, "labelOverlap": false, "title": null, "grid": false}},
  "y": {"field": "r", "type": "quantitative", "title": null}
 }},
{"data": {"name": "rt"}, "mark": {"type": "point", "shape": "M0,0L0.25,-0.28L2,-0.28L2,0.28L0.25,0.28Z", "size": 3600, "filled": true, "opacity": 1, "color": "#000000"},
 "encoding": {"x": {"datum": 265.6, "type": "quantitative", "axis": null}, "y": {"field": "r", "type": "quantitative", "title": null}}},
{"data": {"name": "rt"}, "mark": {"type": "text", "align": "left", "baseline": "middle", "dx": 8, "fontSize": 12.5, "color": "#ffffff"},
 "encoding": {"x": {"datum": 265.6, "type": "quantitative", "axis": null}, "y": {"field": "r", "type": "quantitative", "title": null},
  "text": {"field": "r", "type": "quantitative", "format": ".4f"}}}
]
}
]
}
